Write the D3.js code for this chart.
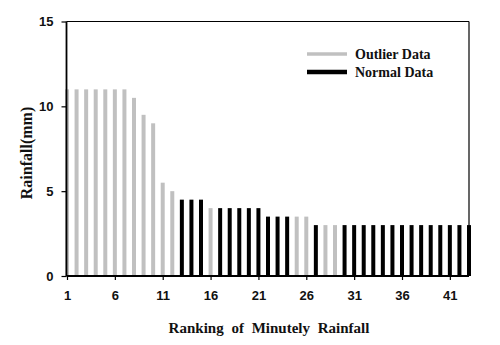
<!DOCTYPE html>
<html><head><meta charset="utf-8">
<script src="https://cdn.jsdelivr.net/npm/d3@7"></script>
<style>body{margin:0;background:#fff;}svg{display:block;}</style>
</head><body>
<svg id="chart" width="500" height="345"></svg>
<script>
const ranks = d3.range(1, 44);
const rainfall = [11,11,11,11,11,11,11,10.5,9.5,9,5.5,5,4.5,4.5,4.5,4,4,4,4,4,4,3.5,3.5,3.5,3.5,3.5,3,3,3,3,3,3,3,3,3,3,3,3,3,3,3,3,3];
const category = ["O","O","O","O","O","O","O","O","O","O","O","O","N","N","N","O","N","N","N","N","N","N","N","N","O","O","N","O","O","N","N","N","N","N","N","N","N","N","N","N","N","N","N"];
const xTicks = [1,6,11,16,21,26,31,36,41];
const yTicks = [0,5,10,15];
const legendLabels = ["Outlier Data","Normal Data"];
const colors = {O:"#c0c0c0", N:"#000000"};

const svg = d3.select("#chart");
const L = 66.5, R = 469, T = 21.5, B = 276;
const x = d3.scaleLinear().domain([1,43]).range([67,469]);
const y = d3.scaleLinear().domain([0,15]).range([B,T]);
const data = ranks.map((r,i)=>({r, v:rainfall[i], c:category[i]}));

svg.append("g").selectAll("rect").data(data).join("rect")
  .attr("x", d=>x(d.r)-2).attr("width", 4)
  .attr("y", d=>y(d.v)).attr("height", d=>B-y(d.v))
  .attr("fill", d=>colors[d.c]);

// frame top/right
svg.append("line").attr("x1",L).attr("x2",R).attr("y1",T).attr("y2",T).attr("stroke","#000").attr("stroke-width",1.2);
svg.append("line").attr("x1",R).attr("x2",R).attr("y1",T).attr("y2",B).attr("stroke","#000").attr("stroke-width",1.2);

const xAxis = svg.append("g").attr("transform",`translate(0,${B})`)
  .call(d3.axisBottom(x).tickValues(xTicks).tickSize(4).tickPadding(11).tickFormat(d3.format("d")));
const yAxis = svg.append("g").attr("transform",`translate(${L},0)`)
  .call(d3.axisLeft(y).tickValues(yTicks).tickSize(5).tickPadding(8).tickFormat(d3.format("d")));
[xAxis,yAxis].forEach(g=>{
  g.select(".domain").attr("stroke","#000").attr("stroke-width",1.8);
  g.selectAll(".tick line").attr("stroke","#000").attr("stroke-width",1.2);
  g.selectAll("text").attr("font-family","Liberation Sans, Arial, sans-serif").attr("font-weight","bold").attr("font-size",13).attr("fill","#111");
});
xAxis.select(".domain").attr("d",`M${L},0H${R}`);
yAxis.select(".domain").attr("d",`M0,${B}V${T}`);

svg.append("text").attr("x",269).attr("y",333).attr("text-anchor","middle")
  .attr("font-family","Liberation Serif, Times New Roman, serif").attr("font-weight","bold").attr("font-size",15)
  .attr("word-spacing","4px").attr("fill","#111").text("Ranking of Minutely Rainfall");
svg.append("text").attr("transform","translate(32,153) rotate(-90)").attr("text-anchor","middle")
  .attr("font-family","Liberation Serif, Times New Roman, serif").attr("font-weight","bold").attr("font-size",16)
  .attr("fill","#111").text("Rainfall(mm)");

const lg = svg.append("g");
legendLabels.forEach((t,i)=>{
  const yy = 54 + i*18;
  lg.append("line").attr("x1",307).attr("x2",347).attr("y1",yy).attr("y2",yy)
    .attr("stroke", i===0?colors.O:colors.N).attr("stroke-width",i===0?3.5:4.5);
  lg.append("text").attr("x",355).attr("y",yy+5)
    .attr("font-family","Liberation Serif, Times New Roman, serif").attr("font-weight","bold").attr("font-size",14)
    .attr("fill","#111").text(t);
});
</script>
</body></html>
